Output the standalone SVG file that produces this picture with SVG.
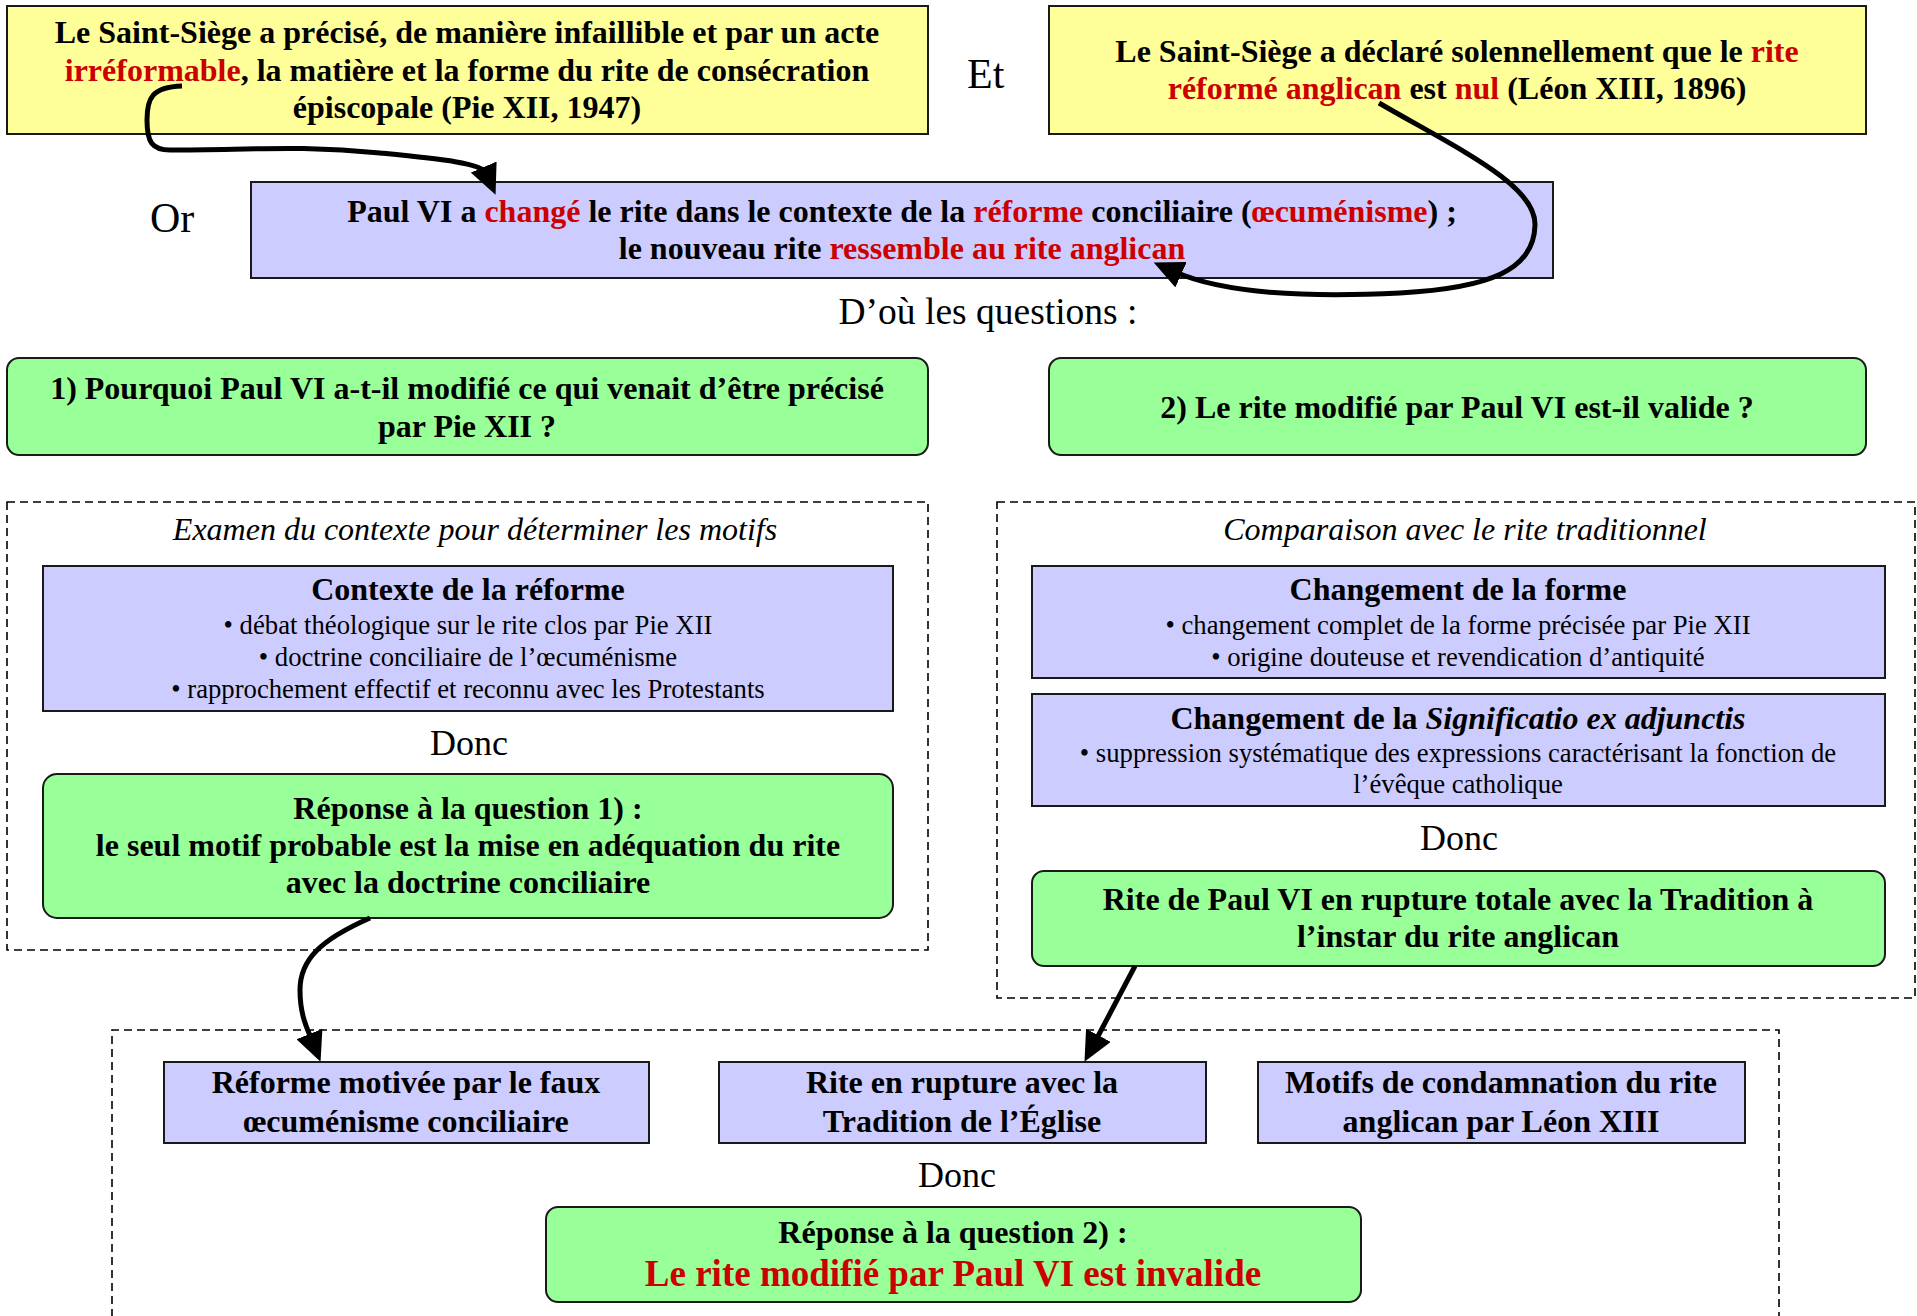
<svg xmlns="http://www.w3.org/2000/svg" width="1917" height="1316" viewBox="0 0 1917 1316">
<style>
text{font-family:"Liberation Serif","Times New Roman",serif;fill:#000}
.b{font-weight:bold;font-size:32px;text-anchor:middle}
.r{fill:#CC0000}
.big{font-size:42px}
.donc{font-size:36px;text-anchor:middle}
.it{font-style:italic;font-size:32px;text-anchor:middle}
.bul{font-size:26.7px;text-anchor:middle}
.yel{fill:#FFFF99;stroke:#1a1a1a;stroke-width:2}
.blu{fill:#CCCCFF;stroke:#1a1a1a;stroke-width:2}
.grn{fill:#99FF99;stroke:#1a1a1a;stroke-width:2}
.dash{fill:none;stroke:#000;stroke-width:1.6;stroke-dasharray:8 5}
.arr{fill:none;stroke:#000;stroke-width:5;marker-end:url(#ah)}
</style>
<defs>
<marker id="ah" markerUnits="userSpaceOnUse" viewBox="0 0 30 28" refX="7" refY="14" markerWidth="30" markerHeight="28" orient="auto">
<path d="M0,0 L30,14 L0,28 z" fill="#000"/>
</marker>
</defs>
<rect width="1917" height="1316" fill="#fff"/>

<g id="frames">
<rect class="dash" x="7" y="502" width="921" height="448"/>
<rect class="dash" x="997" y="502" width="918" height="496"/>
<path class="dash" d="M112,1330 V1030 H1779 V1330"/>
</g>

<g id="yellow1">
<rect class="yel" x="7" y="6" width="921" height="128"/>
<text class="b" x="467" y="43">Le Saint-Siège a précisé, de manière infaillible et par un acte</text>
<text class="b" x="467" y="81"><tspan class="r">irréformable</tspan>, la matière et la forme du rite de consécration</text>
<text class="b" x="467" y="118">épiscopale (Pie XII, 1947)</text>
</g>

<g id="label-et"><text class="big" x="967" y="88">Et</text></g>

<g id="yellow2">
<rect class="yel" x="1049" y="6" width="817" height="128"/>
<text class="b" x="1457" y="62">Le Saint-Siège a déclaré solennellement que le <tspan class="r">rite</tspan></text>
<text class="b" x="1457" y="99"><tspan class="r">réformé anglican</tspan> est <tspan class="r">nul</tspan> (Léon XIII, 1896)</text>
</g>

<g id="label-or"><text class="big" x="150" y="232">Or</text></g>

<g id="paul6">
<rect class="blu" x="251" y="182" width="1302" height="96"/>
<text class="b" x="902" y="222">Paul VI a <tspan class="r">changé</tspan> le rite dans le contexte de la <tspan class="r">réforme</tspan> conciliaire (<tspan class="r">œcuménisme</tspan>) ;</text>
<text class="b" x="902" y="259">le nouveau rite <tspan class="r">ressemble au rite anglican</tspan></text>
</g>

<g id="label-dou"><text class="donc" x="988" y="324" style="font-size:37.5px">D’où les questions :</text></g>

<g id="q1">
<rect class="grn" x="7" y="358" width="921" height="97" rx="12"/>
<text class="b" x="467" y="399">1) Pourquoi Paul VI a-t-il modifié ce qui venait d’être précisé</text>
<text class="b" x="467" y="437">par Pie XII ?</text>
</g>

<g id="q2">
<rect class="grn" x="1049" y="358" width="817" height="97" rx="12"/>
<text class="b" x="1457" y="418">2) Le rite modifié par Paul VI est-il valide ?</text>
</g>

<g id="left-group">
<text class="it" x="475" y="540">Examen du contexte pour déterminer les motifs</text>
</g>

<g id="contexte">
<rect class="blu" x="43" y="566" width="850" height="145"/>
<text class="b" x="468" y="600">Contexte de la réforme</text>
<text class="bul" x="468" y="634">• débat théologique sur le rite clos par Pie XII</text>
<text class="bul" x="468" y="666">• doctrine conciliaire de l’œcuménisme</text>
<text class="bul" x="468" y="698">• rapprochement effectif et reconnu avec les Protestants</text>
</g>

<g id="donc1"><text class="donc" x="469" y="755">Donc</text></g>

<g id="reponse1">
<rect class="grn" x="43" y="774" width="850" height="144" rx="14"/>
<text class="b" x="468" y="819">Réponse à la question 1) :</text>
<text class="b" x="468" y="856">le seul motif probable est la mise en adéquation du rite</text>
<text class="b" x="468" y="893">avec la doctrine conciliaire</text>
</g>

<g id="right-group">
<text class="it" x="1465" y="540">Comparaison avec le rite traditionnel</text>
</g>

<g id="forme">
<rect class="blu" x="1032" y="566" width="853" height="112"/>
<text class="b" x="1458" y="600">Changement de la forme</text>
<text class="bul" x="1458" y="634">• changement complet de la forme précisée par Pie XII</text>
<text class="bul" x="1458" y="666">• origine douteuse et revendication d’antiquité</text>
</g>

<g id="significatio">
<rect class="blu" x="1032" y="694" width="853" height="112"/>
<text class="b" x="1458" y="729">Changement de la <tspan font-style="italic">Significatio ex adjunctis</tspan></text>
<text class="bul" x="1458" y="762">• suppression systématique des expressions caractérisant la fonction de</text>
<text class="bul" x="1458" y="793">l’évêque catholique</text>
</g>

<g id="donc2"><text class="donc" x="1459" y="850">Donc</text></g>

<g id="rupture">
<rect class="grn" x="1032" y="871" width="853" height="95" rx="12"/>
<text class="b" x="1458" y="910">Rite de Paul VI en rupture totale avec la Tradition à</text>
<text class="b" x="1458" y="947">l’instar du rite anglican</text>
</g>

<g id="faux-oecumenisme">
<rect class="blu" x="164" y="1062" width="485" height="81"/>
<text class="b" x="406" y="1093">Réforme motivée par le faux</text>
<text class="b" x="406" y="1132">œcuménisme conciliaire</text>
</g>

<g id="rite-rupture">
<rect class="blu" x="719" y="1062" width="487" height="81"/>
<text class="b" x="962" y="1093">Rite en rupture avec la</text>
<text class="b" x="962" y="1132">Tradition de l’Église</text>
</g>

<g id="motifs-leon">
<rect class="blu" x="1258" y="1062" width="487" height="81"/>
<text class="b" x="1501" y="1093">Motifs de condamnation du rite</text>
<text class="b" x="1501" y="1132">anglican par Léon XIII</text>
</g>

<g id="donc3"><text class="donc" x="957" y="1187">Donc</text></g>

<g id="reponse2">
<rect class="grn" x="546" y="1207" width="815" height="95" rx="12"/>
<text class="b" x="953" y="1243">Réponse à la question 2) :</text>
<text class="b r" x="953" y="1286" style="font-size:37px">Le rite modifié par Paul VI est invalide</text>
</g>

<g id="connectors">
<path class="arr" d="M182,86 C152,87 147,98 147,120 C147,142 152,150 170,150 C250,150 300,145 380,153 C440,159 482,163 486.5,173.5"/>
<path class="arr" d="M1379,103 C1460,150 1536,185 1535,225 C1534,270 1490,288 1400,293 C1300,298 1220,292 1174.7,271.8"/>
<path class="arr" d="M370,918 C320,940 300,960 300,990 C300,1015 307,1028 312,1040.5"/>
<path class="arr" d="M1135,966 L1095.2,1041.5"/>
</g>
</svg>
